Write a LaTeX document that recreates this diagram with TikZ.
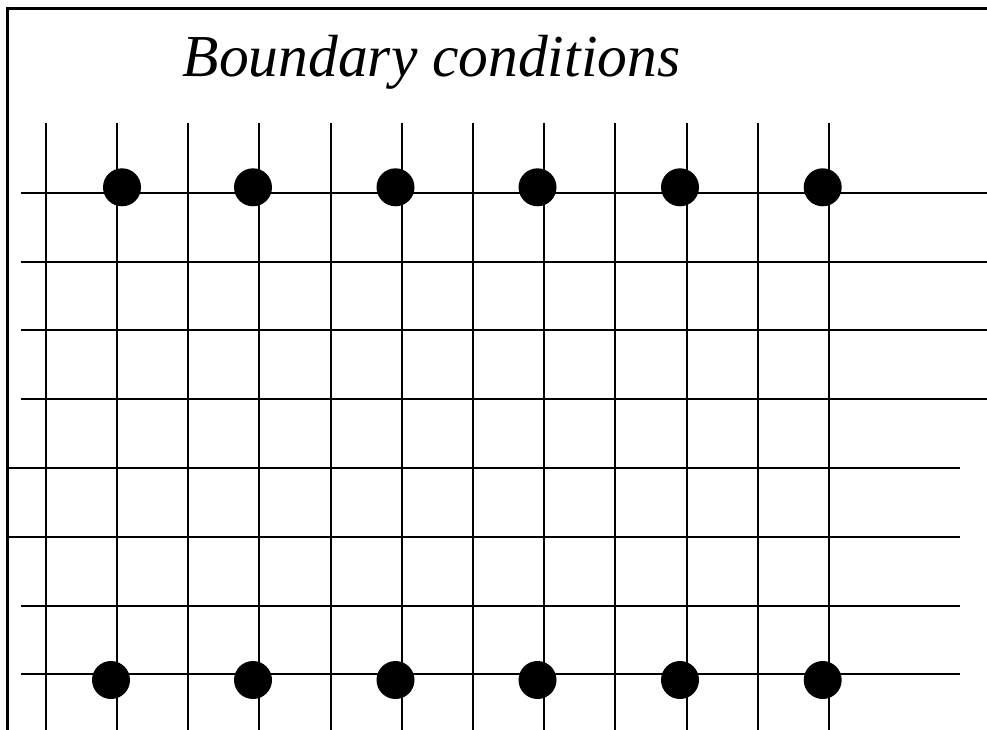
\documentclass[tikz,border=0pt]{standalone}
\usepackage{fontspec}
\setmainfont{Liberation Serif}
\begin{document}
\begin{tikzpicture}[x=1pt,y=-1pt,
  gridline/.style={line width=2pt, black},
  framel/.style={line width=2.5pt, black},
  bdot/.style={circle, fill=black, inner sep=0pt, minimum size=38pt}]
\useasboundingbox (0,0) rectangle (987,730);
% frame
\draw[framel] (7.5,730) -- (7.5,8.5) -- (987,8.5);
% title
\node[anchor=base, inner sep=0pt, font=\fontsize{59.5}{64}\selectfont\itshape] (title) at (431.5,76.7) {Boundary conditions};
% vertical lines
\foreach \i in {0,...,11}{
  \draw[gridline] ({45.7+71.2*\i},123) -- ({45.7+71.2*\i},730);
}
% horizontal lines
\foreach \j in {0,...,3}{
  \draw[gridline] (20.5,{192.7+68.8*\j}) -- (987,{192.7+68.8*\j});
}
\foreach \j in {4,5}{
  \draw[gridline] (9,{192.7+68.8*\j}) -- (960,{192.7+68.8*\j});
}
\foreach \j in {6,7}{
  \draw[gridline] (21,{192.7+68.8*\j}) -- (960,{192.7+68.8*\j});
}
% boundary dots, top
\node[bdot] (t1) at (122,187.3) {};
\node[bdot] (t2) at (253,187.3) {};
\node[bdot] (t3) at (395.5,187.3) {};
\node[bdot] (t4) at (537.5,187.3) {};
\node[bdot] (t5) at (680,187.3) {};
\node[bdot] (t6) at (822.7,187.3) {};
% boundary dots, bottom
\node[bdot] (b1) at (111,680) {};
\node[bdot] (b2) at (253,680) {};
\node[bdot] (b3) at (395.5,680) {};
\node[bdot] (b4) at (537.5,680) {};
\node[bdot] (b5) at (680,680) {};
\node[bdot] (b6) at (822.7,680) {};
\end{tikzpicture}
\end{document}
